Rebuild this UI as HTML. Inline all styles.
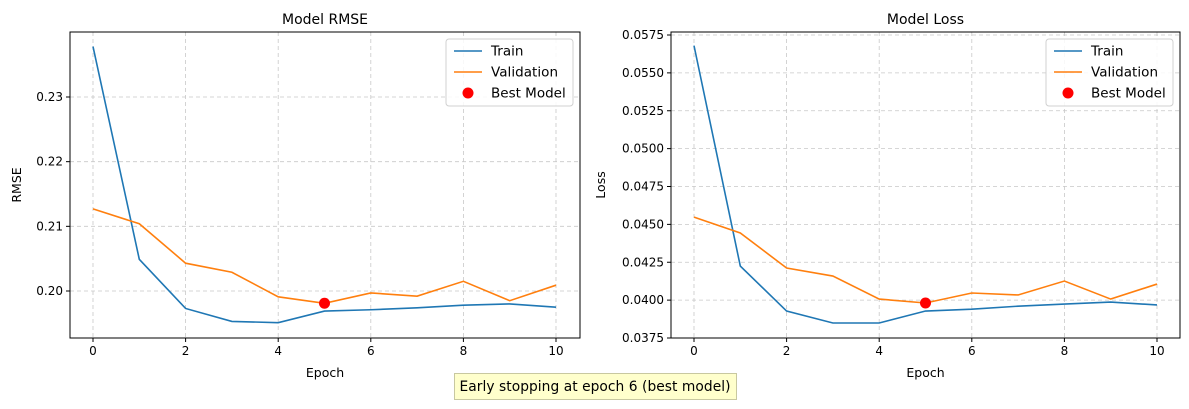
<!DOCTYPE html>
<html><head><meta charset="utf-8"><style>
body{margin:0;background:#fff;font-family:"Liberation Sans","DejaVu Sans",sans-serif;}
svg text{font-family:"DejaVu Sans","Liberation Sans",sans-serif;}
</style></head><body>
<svg id="c" width="1189" height="404" xmlns="http://www.w3.org/2000/svg"></svg>
<script>
const epochs=[0,1,2,3,4,5,6,7,8,9,10];
const rmseTrain=[0.2378,0.2049,0.1973,0.1953,0.1951,0.1969,0.1971,0.1974,0.1978,0.1980,0.1975];
const rmseVal=[0.2127,0.2104,0.2043,0.2029,0.1991,0.1981,0.1997,0.1992,0.2015,0.1985,0.2009];
const lossTrain=[0.0568,0.04225,0.03928,0.03849,0.03849,0.03928,0.0394,0.0396,0.03974,0.03987,0.03968];
const lossVal=[0.04548,0.04443,0.04212,0.04159,0.04007,0.03981,0.04047,0.04034,0.04126,0.04007,0.04106];
const bestEpoch=5;
const xTicks=[0,2,4,6,8,10];
const rmseTicks=[0.20,0.21,0.22,0.23];
const lossTicks=[0.0375,0.0400,0.0425,0.0450,0.0475,0.0500,0.0525,0.0550,0.0575];
const NS="http://www.w3.org/2000/svg";
const svg=document.getElementById('c');
function mk(tag,attrs,parent){const e=document.createElementNS(NS,tag);for(const k in attrs)e.setAttribute(k,attrs[k]);(parent||svg).appendChild(e);return e;}
function panel(o){
 const g=mk('g',{});
 
 
 const L=o.left,R=o.right,T=32,B=338;
 const xs=v=>o.x0+(v-0)*(o.x10-o.x0)/10;
 const ys=v=>o.yA+(v-o.vA)*(o.yB-o.yA)/(o.vB-o.vA);
 xTicks.forEach(t=>{
  const x=xs(t);
  const gl=mk('line',{x1:x,x2:x,y1:T,y2:B,stroke:'#c8c8c8','stroke-dasharray':'4,3','stroke-width':0.8},g);
  
  mk('line',{x1:x,x2:x,y1:B,y2:B+4,stroke:'#000'},g);
  const tx=mk('text',{x:x,y:B+17,'font-size':12,'text-anchor':'middle'},g);tx.textContent=t;
  
 });
 o.ticks.forEach(t=>{
  const y=ys(t);
  const gl=mk('line',{x1:L,x2:R,y1:y,y2:y,stroke:'#c8c8c8','stroke-dasharray':'4,3','stroke-width':0.8},g);
  
  mk('line',{x1:L-4,x2:L,y1:y,y2:y,stroke:'#000'},g);
  const tx=mk('text',{x:L-7,y:y+4,'font-size':12,'text-anchor':'end'},g);tx.textContent=t.toFixed(o.dec);
  
 });
 const line=(vals,col,nm)=>{const p=mk('polyline',{points:vals.map((v,i)=>xs(epochs[i])+','+ys(v)).join(' '),fill:'none',stroke:col,'stroke-width':1.6},g);
  };
 line(o.train,'#1f77b4','train-line');
 line(o.val,'#ff7f0e','validation-line');
 const bm=mk('circle',{cx:xs(bestEpoch),cy:ys(o.val[bestEpoch]),r:5.5,fill:'#ff0000'},g);
 
 mk('rect',{x:L,y:T,width:R-L,height:B-T,fill:'none',stroke:'#000','stroke-width':1},g);
 const ti=mk('text',{x:(L+R)/2,y:24,'font-size':14,'text-anchor':'middle'},g);ti.textContent=o.title;
 
 const xl=mk('text',{x:(L+R)/2,y:377,'font-size':12.5,'text-anchor':'middle'},g);xl.textContent='Epoch';
 
 const yl=mk('text',{x:0,y:0,'font-size':12.5,'text-anchor':'middle',transform:`translate(${o.ylx},${(T+B)/2}) rotate(-90)`},g);yl.textContent=o.ylabel;
 
 const lg=mk('g',{},g);
 const lx=R-134,ly=39;
 mk('rect',{x:lx,y:ly,width:127,height:67,rx:3,fill:'#fff','fill-opacity':0.85,stroke:'#d0d0d0'},lg);
 [['Train','#1f77b4'],['Validation','#ff7f0e'],['Best Model','#ff0000']].forEach((e,i)=>{
  const y=ly+12+i*21;
  const eg=mk('g',{},lg);
  if(i<2)mk('line',{x1:lx+8,x2:lx+36,y1:y,y2:y,stroke:e[1],'stroke-width':1.6},eg);
  else mk('circle',{cx:lx+22,cy:y,r:5.5,fill:e[1]},eg);
  const t=mk('text',{x:lx+45,y:y+4.5,'font-size':13.5,textLength:e[0]==='Validation'?67:null},eg);t.textContent=e[0];
  if(e[0]!=='Validation')t.removeAttribute('textLength');
 });
}
panel({name:'rmse-chart',left:70,right:580,x0:93,x10:556,vA:0.20,yA:291,vB:0.23,yB:97,ticks:rmseTicks,dec:2,train:rmseTrain,val:rmseVal,title:'Model RMSE',ylabel:'RMSE',ylx:21});
panel({name:'loss-chart',left:671,right:1180,x0:694,x10:1157,vA:0.0375,yA:338,vB:0.0575,yB:35,ticks:lossTicks,dec:4,train:lossTrain,val:lossVal,title:'Model Loss',ylabel:'Loss',ylx:605});
const fb=mk('g',{});
mk('rect',{x:454.5,y:373.5,width:282,height:26,fill:'#ffffcc',stroke:'#c8c8a0'},fb);
const ft=mk('text',{x:595,y:391,'font-size':13.8,'text-anchor':'middle',textLength:271},fb);ft.textContent='Early stopping at epoch 6 (best model)';
</script>
</body></html>
